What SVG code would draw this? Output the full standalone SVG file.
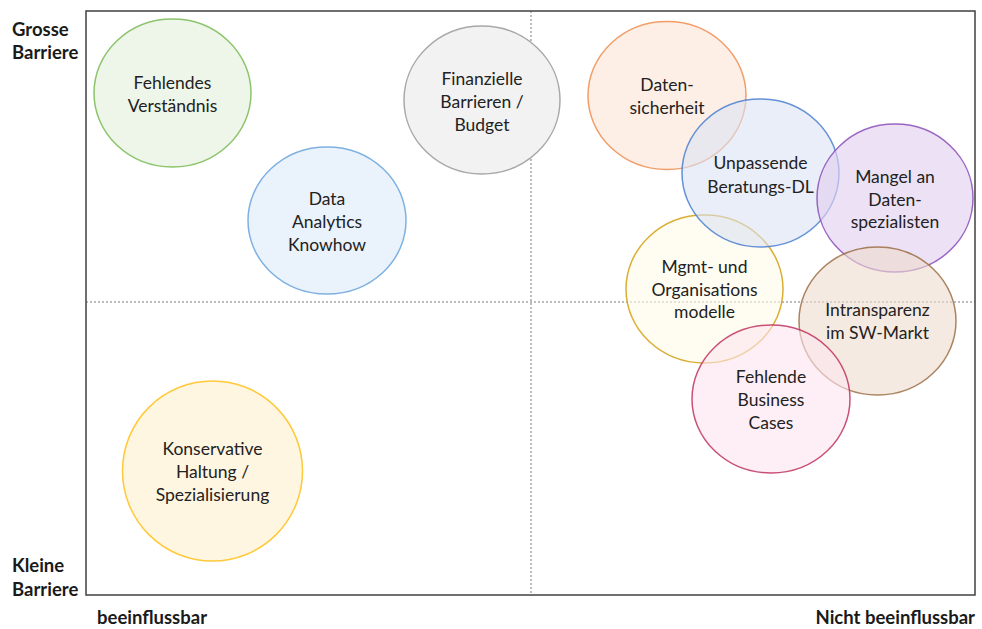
<svg xmlns="http://www.w3.org/2000/svg" width="982" height="629" viewBox="0 0 982 629">
  <style>
    .lbl { font-family: Lato, "Open Sans", "Liberation Sans", sans-serif; font-size: 17.5px; fill: #222222; text-anchor: middle; }
    .axis { font-family: Lato, "Open Sans", "Liberation Sans", sans-serif; font-size: 18.5px; font-weight: bold; fill: #1a1a1a; }
    .bub { stroke-width: 1.5; }
    .guide { stroke: #555; stroke-width: 0.8; stroke-dasharray: 2 2; fill: none; }
  </style>
  <rect width="982" height="629" fill="#ffffff"/>

  <!-- quadrant frame and guides -->
  <g id="frame">
    <rect x="86" y="11" width="889" height="584" fill="none" stroke="#404040" stroke-width="1.5"/>
    <line class="guide" x1="531" y1="11" x2="531" y2="595"/>
    <line class="guide" x1="86" y1="302" x2="975" y2="302"/>
  </g>

  <!-- axis labels -->
  <g id="axis-labels">
    <text class="axis" x="12" y="36">Grosse</text>
    <text class="axis" x="12" y="59">Barriere</text>
    <text class="axis" x="12" y="572">Kleine</text>
    <text class="axis" x="12" y="596">Barriere</text>
    <text class="axis" x="97" y="624">beeinflussbar</text>
    <text class="axis" x="975" y="624" text-anchor="end">Nicht beeinflussbar</text>
  </g>

  <g id="fehlendes-verstaendnis">
    <ellipse class="bub" cx="172.5" cy="93" rx="78.5" ry="74" fill="#eef5e9" stroke="#8cc46b"/>
    <text class="lbl" x="172.5" y="89">Fehlendes</text>
    <text class="lbl" x="172.5" y="112">Verständnis</text>
  </g>

  <g id="finanzielle-barrieren">
    <ellipse class="bub" cx="482" cy="100" rx="78" ry="74" fill="#f2f2f2" stroke="#a8a8a8"/>
    <text class="lbl" x="482" y="85">Finanzielle</text>
    <text class="lbl" x="482" y="108">Barrieren /</text>
    <text class="lbl" x="482" y="131">Budget</text>
  </g>

  <g id="data-analytics">
    <ellipse class="bub" cx="327" cy="220.5" rx="79" ry="73.5" fill="#eaf2fb" stroke="#7eb1e2"/>
    <text class="lbl" x="327" y="205">Data</text>
    <text class="lbl" x="327" y="228">Analytics</text>
    <text class="lbl" x="327" y="251">Knowhow</text>
  </g>

  <g id="konservative-haltung">
    <ellipse class="bub" cx="212.5" cy="471" rx="90" ry="90" fill="#fff6e1" stroke="#ffc93a"/>
    <text class="lbl" x="212.5" y="455">Konservative</text>
    <text class="lbl" x="212.5" y="478">Haltung /</text>
    <text class="lbl" x="212.5" y="501">Spezialisierung</text>
  </g>

  <g id="datensicherheit">
    <ellipse class="bub" cx="667" cy="95.5" rx="79" ry="74" fill="#fbe5d6" fill-opacity="0.6" stroke="#f08d50" stroke-opacity="0.85"/>
    <text class="lbl" x="667" y="91">Daten-</text>
    <text class="lbl" x="667" y="114">sicherheit</text>
  </g>

  <g id="mgmt-organisation">
    <ellipse class="bub" cx="704.5" cy="289" rx="78.5" ry="74" fill="#fffbe8" fill-opacity="0.6" stroke="#d6a41e" stroke-opacity="0.9"/>
    <text class="lbl" x="704.5" y="273">Mgmt- und</text>
    <text class="lbl" x="704.5" y="296">Organisations</text>
    <text class="lbl" x="704.5" y="318">modelle</text>
  </g>

  <g id="unpassende-beratung">
    <ellipse class="bub" cx="760.5" cy="173" rx="78.5" ry="74" fill="#dae3f3" fill-opacity="0.6" stroke="#4a7fd0" stroke-opacity="0.85"/>
    <text class="lbl" x="760.5" y="169">Unpassende</text>
    <text class="lbl" x="760.5" y="193">Beratungs-DL</text>
  </g>

  <g id="mangel-datenspezialisten">
    <ellipse class="bub" cx="895" cy="198" rx="78" ry="74" fill="#e2d1f0" fill-opacity="0.65" stroke="#8a4cb8" stroke-opacity="0.85"/>
    <text class="lbl" x="895" y="183">Mangel an</text>
    <text class="lbl" x="895" y="206">Daten-</text>
    <text class="lbl" x="895" y="228">spezialisten</text>
  </g>

  <g id="intransparenz-sw-markt">
    <ellipse class="bub" cx="877.5" cy="321" rx="78.5" ry="74" fill="#eedccd" fill-opacity="0.6" stroke="#9c6f45" stroke-opacity="0.85"/>
    <text class="lbl" x="877.5" y="316">Intransparenz</text>
    <text class="lbl" x="877.5" y="339">im SW-Markt</text>
  </g>

  <g id="fehlende-business-cases">
    <ellipse class="bub" cx="771" cy="399" rx="79" ry="74" fill="#fce4ee" fill-opacity="0.6" stroke="#c0325e" stroke-opacity="0.85"/>
    <text class="lbl" x="771" y="383">Fehlende</text>
    <text class="lbl" x="771" y="406">Business</text>
    <text class="lbl" x="771" y="429">Cases</text>
  </g>
</svg>
